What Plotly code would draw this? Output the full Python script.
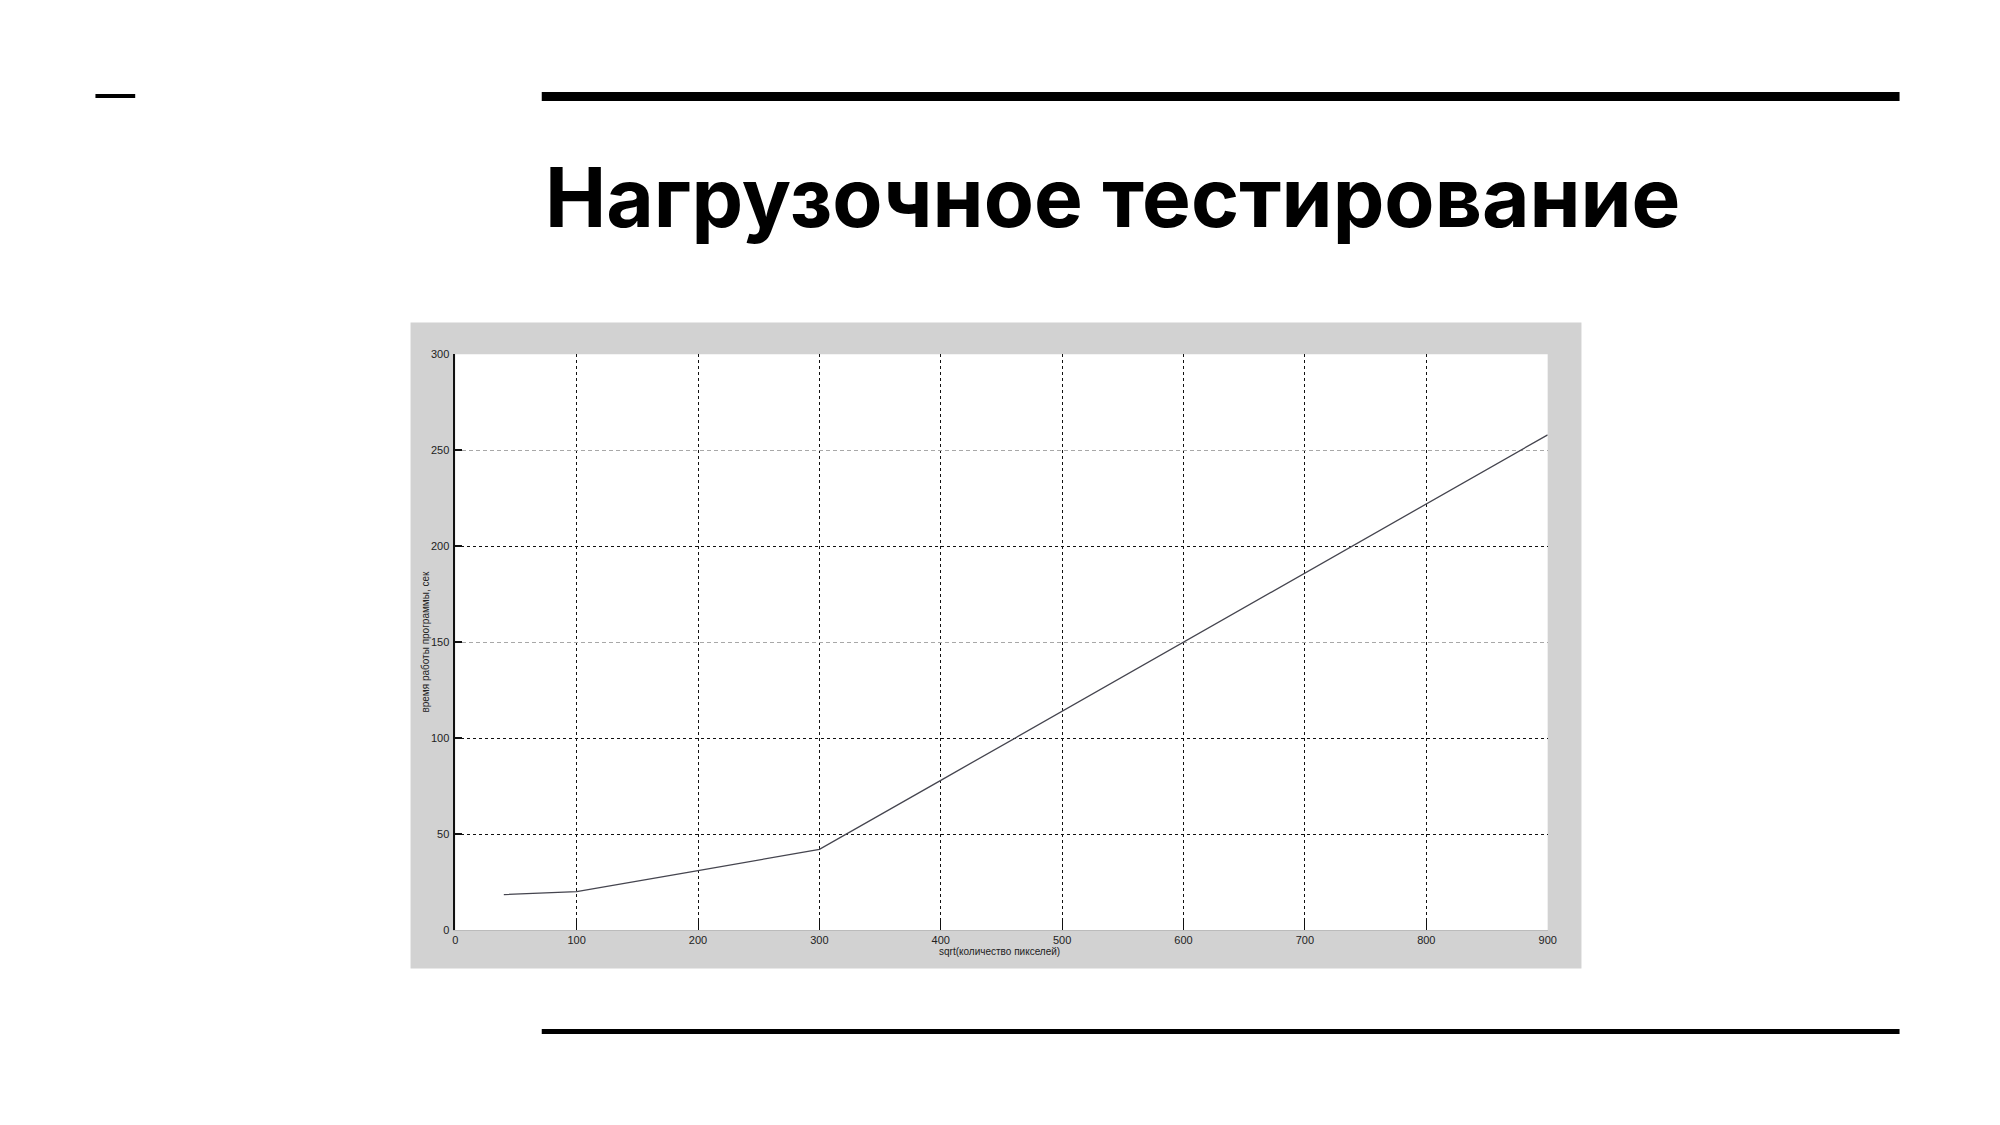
import plotly.graph_objects as go

# ---- data ----
x_vals = [40, 100, 200, 300, 400, 500, 600, 700, 800, 900]
y_vals = [18.5, 20, 31, 42, 78, 114, 150, 186, 222, 258]
x_ticks = [0, 100, 200, 300, 400, 500, 600, 700, 800, 900]
y_ticks = [0, 50, 100, 150, 200, 250, 300]
y_dark_grid = [0, 50, 100, 200, 300]
y_light_grid = [150, 250]

title_text = "Нагрузочное тестирование"
x_title = "sqrt(количество пикселей)"
y_title = "время работы программы, сек"

W, H = 2000, 1125


def px(x):
    return x / W


def py(y):
    return 1 - y / H


fig = go.Figure()

fig.add_trace(go.Scatter(x=x_vals, y=y_vals, mode="lines",
                         line=dict(color="#45454f", width=1.3),
                         showlegend=False, hoverinfo="skip"))
fig.add_trace(go.Scatter(x=[None], y=[None], yaxis="y2", showlegend=False,
                         hoverinfo="skip"))
fig.add_trace(go.Scatter(x=[None], y=[None], yaxis="y3", showlegend=False,
                         hoverinfo="skip"))

dom_x = [px(455), px(1554)]
dom_y = [py(934), py(352)]
tick_font = dict(family="Liberation Sans, Arial, sans-serif", size=11, color="#222")

fig.update_layout(
    width=W, height=H,
    margin=dict(l=0, r=0, t=0, b=0),
    paper_bgcolor="white",
    plot_bgcolor="white",
    xaxis=dict(domain=dom_x, range=[0, 900], tickvals=x_ticks,
               showgrid=True, gridcolor="#111", griddash="dot", gridwidth=1,
               ticks="inside", ticklen=9, tickcolor="#111", tickwidth=1,
               showline=True, linecolor="#bbb", linewidth=1,
               zeroline=False, tickfont=tick_font, fixedrange=True),
    yaxis=dict(domain=dom_y, range=[0, 300], tickvals=y_ticks,
               showgrid=False, ticks="inside", ticklen=7, tickcolor="#111",
               tickwidth=1.5, showline=True, linecolor="#111", linewidth=1.5,
               zeroline=False, tickfont=tick_font, ticklabelstandoff=2),
    yaxis2=dict(domain=dom_y, range=[0, 300], overlaying="y", tickvals=y_dark_grid,
                showgrid=True, gridcolor="#111", griddash="dot", gridwidth=1,
                showticklabels=False, ticks="", showline=False, zeroline=False),
    yaxis3=dict(domain=dom_y, range=[0, 300], overlaying="y", tickvals=y_light_grid,
                showgrid=True, gridcolor="#a8a8a8", griddash="4px,3px", gridwidth=1,
                showticklabels=False, ticks="", showline=False, zeroline=False),
)

shapes = [
    # grey panel around the chart
    dict(type="rect", xref="paper", yref="paper", x0=px(410), x1=px(1588),
         y0=py(973), y1=py(320), fillcolor="#d2d2d2", line=dict(width=0),
         layer="below"),
    # white plot area
    dict(type="rect", xref="paper", yref="paper", x0=dom_x[0], x1=dom_x[1],
         y0=dom_y[0], y1=dom_y[1], fillcolor="white", line=dict(width=0),
         layer="below"),
    # small dash top-left
    dict(type="rect", xref="paper", yref="paper", x0=px(93), x1=px(133),
         y0=py(93), y1=py(89), fillcolor="black", line=dict(width=0)),
    # top rule
    dict(type="rect", xref="paper", yref="paper", x0=px(542), x1=px(1908),
         y0=py(96), y1=py(87), fillcolor="black", line=dict(width=0)),
    # bottom rule
    dict(type="rect", xref="paper", yref="paper", x0=px(542), x1=px(1908),
         y0=py(1039), y1=py(1034), fillcolor="black", line=dict(width=0)),
]
fig.update_layout(shapes=shapes)

annotations = [
    dict(text=title_text, xref="paper", yref="paper", x=px(543), y=py(194),
         xanchor="left", yanchor="middle", showarrow=False,
         font=dict(family="Inter, Open Sans, sans-serif", size=82, color="black",
                   weight=700)),
    dict(text=x_title, xref="paper", yref="paper", x=px(1003), y=py(956),
         xanchor="center", yanchor="middle", showarrow=False,
         font=dict(family="Liberation Sans, Arial, sans-serif", size=10, color="#222")),
    dict(text=y_title, xref="paper", yref="paper", x=px(425), y=py(642),
         xanchor="center", yanchor="middle", showarrow=False, textangle=-90,
         font=dict(family="Liberation Sans, Arial, sans-serif", size=10, color="#222")),
]
fig.update_layout(annotations=annotations)

fig.write_html("out.html")
